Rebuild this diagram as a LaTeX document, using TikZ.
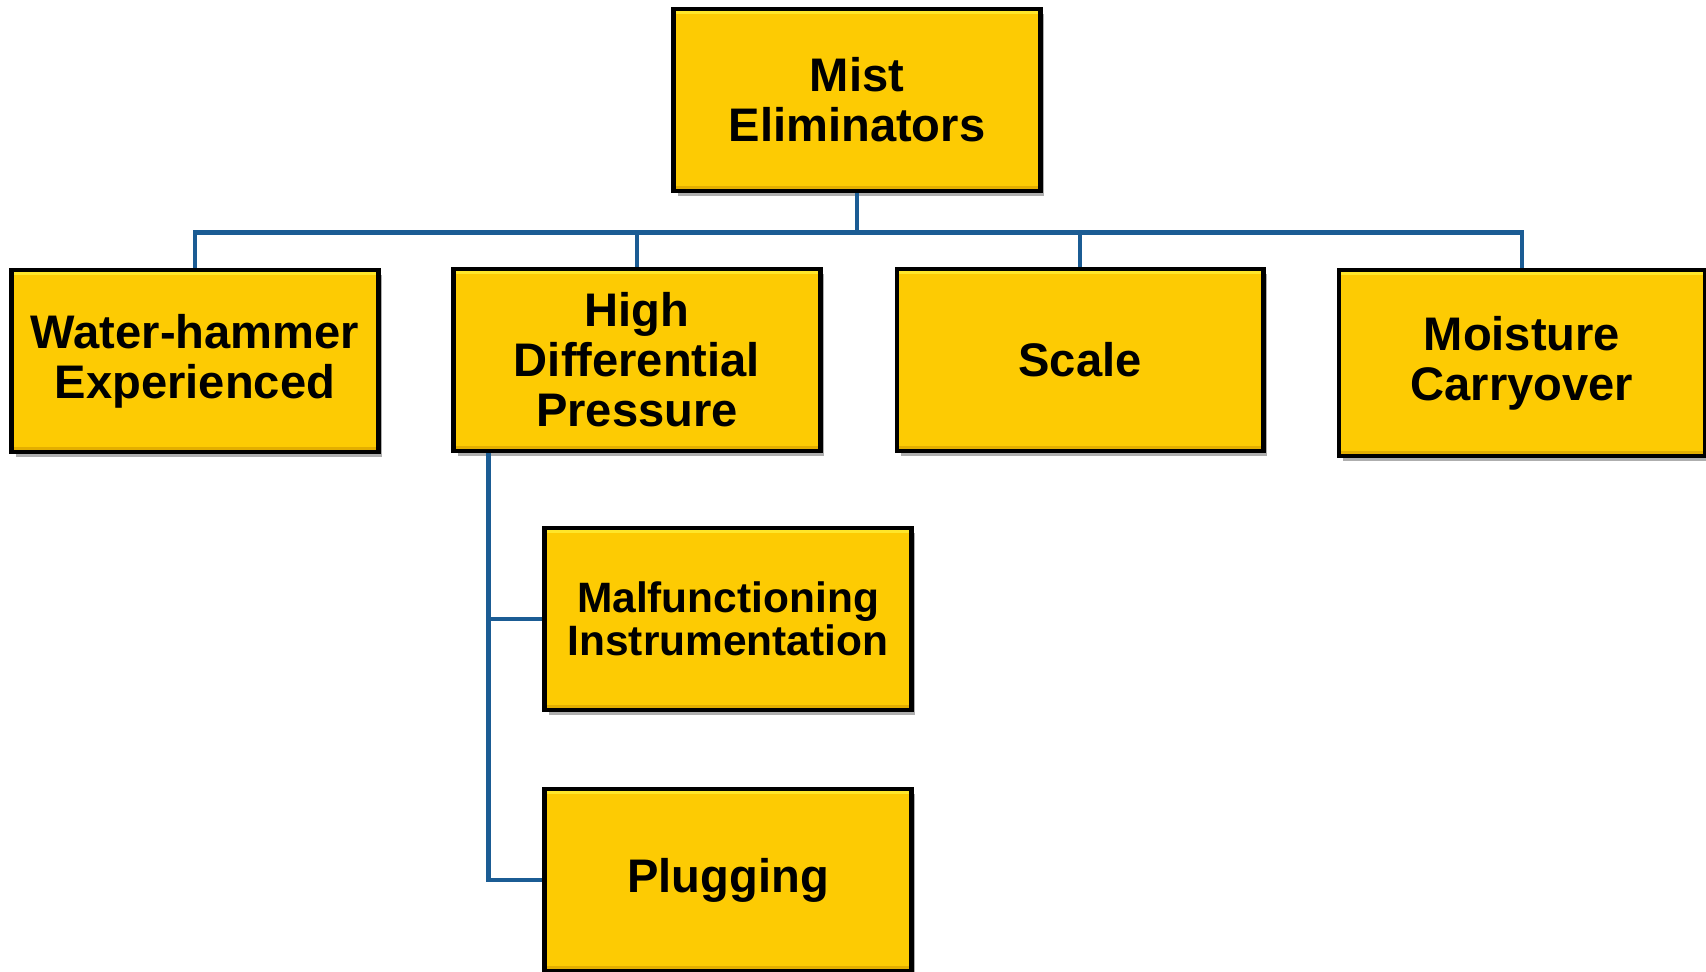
\documentclass[tikz,border=0pt]{standalone}
\usepackage{fontspec}
\setmainfont{Liberation Sans}
\usetikzlibrary{shadows,calc}
\definecolor{boxgold}{HTML}{FDCB03}
\definecolor{boxhigh}{HTML}{FFE62A}
\definecolor{boxlow}{HTML}{E3AE00}
\definecolor{linkblue}{HTML}{1B5C94}

\begin{document}
\begin{tikzpicture}[x=0.025cm,y=-0.025cm,
  item/.style={rectangle,draw=black,line width=3.5pt,fill=boxgold,minimum width=9.15cm,minimum height=4.55cm,align=center,inner sep=2pt,font=\fontsize{33.5}{35.6}\selectfont\bfseries,
    drop shadow={shadow xshift=0.1cm,shadow yshift=-0.12cm,fill=black!70,opacity=0.45},
    path picture={
      \fill[boxhigh] (path picture bounding box.north west) rectangle ($(path picture bounding box.north east)+(0,-0.13cm)$);
      \fill[boxlow] (path picture bounding box.south west) rectangle ($(path picture bounding box.south east)+(0,0.13cm)$);
    }},
  small item/.style={item,font=\fontsize{30.2}{30.8}\selectfont\bfseries},
  link/.style={draw=linkblue,line width=3.4pt}]
  \useasboundingbox[fill=white] (0,0) rectangle (1706,972);

  \node[item] (top) at (857,100) {Mist\\Eliminators};
  \node[item] (water) at (195,361) {Water-hammer\\Experienced};
  \node[item] (hdp) at (637,360) {High\\Differential\\Pressure};
  \node[item] (scale) at (1080,360) {Scale};
  \node[item,minimum height=4.65cm] (moist) at (1522,363) {Moisture\\Carryover};
  \node[small item] (malf) at (728,619) {Malfunctioning\\Instrumentation};
  \node[item] (plug) at (728,880) {Plugging};

  % links from the top box
  \foreach \c in {water,hdp,scale,moist}
    \draw[link] (top.south) -- ++(0,39) -| (\c.north);

  % links below high differential pressure
  \coordinate (tap) at ($(hdp.south west)!0.1!(hdp.south east)$);
  \draw[link] (tap) |- (malf.west);
  \draw[link] (tap) |- (plug.west);
\end{tikzpicture}
\end{document}
